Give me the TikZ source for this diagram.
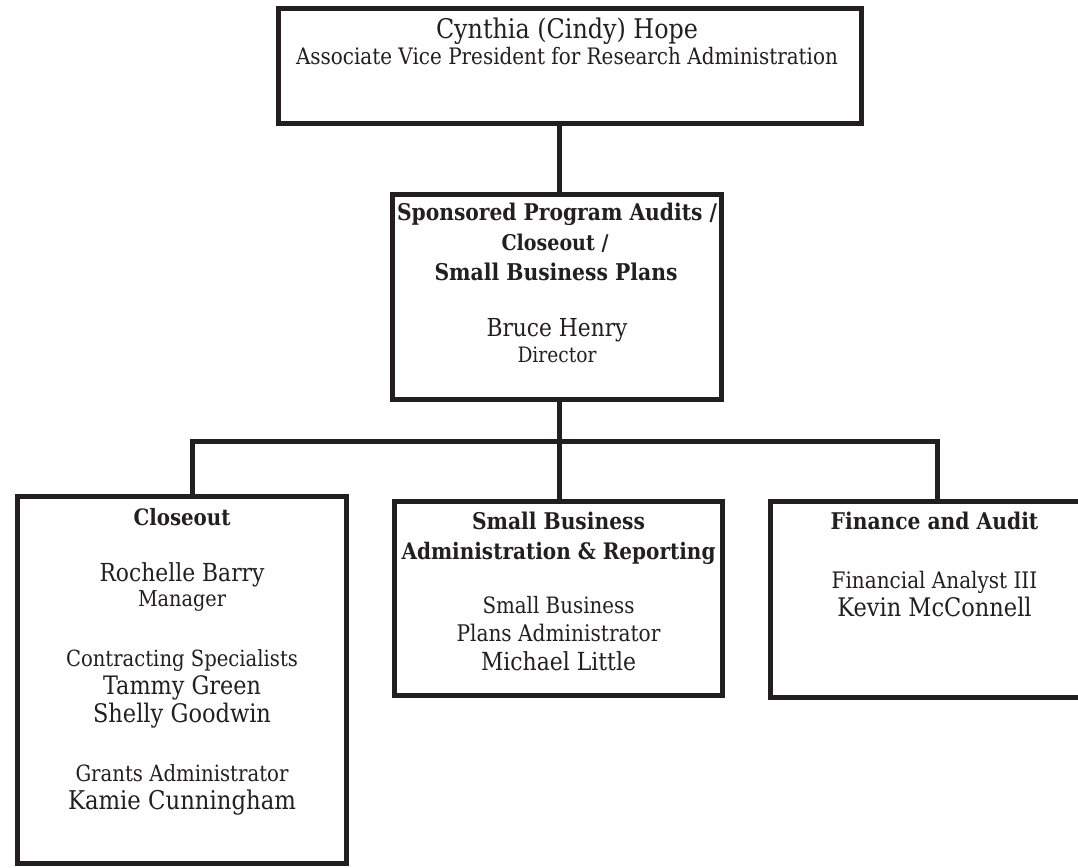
\documentclass[tikz,border=0pt]{standalone}
\usepackage{fontspec}
\setmainfont{DejaVu Serif}[FakeStretch=0.88]
\definecolor{ink}{RGB}{35,31,32}
\newlength\fitlen
\newcommand\fitto[2]{\settowidth\fitlen{\fontsize{10}{12}\selectfont #2}\pgfmathsetmacro\fitsz{10*#1/\fitlen}\fontsize{\fitsz}{\fitsz}\selectfont #2}
\tikzset{
  box/.style={draw=ink, line width=5pt, rectangle, inner sep=0pt},
  lbl/.style={anchor=base, inner sep=0pt, text=ink},
  link/.style={draw=ink, line width=5pt, line join=miter}
}
\begin{document}
\begin{tikzpicture}[x=1pt,y=-1pt]
\clip (0,0) rectangle (1078,867);
\fill[white] (0,0) rectangle (1078,867);
% boxes
\node[box, minimum width=583pt, minimum height=115pt] (top) at (569.5,66) {};
\node[box, minimum width=329pt, minimum height=205pt] (mid) at (557,296.5) {};
\node[box, minimum width=329pt, minimum height=366.5pt] (close) at (182,679.75) {};
\node[box, minimum width=328pt, minimum height=194pt] (sb) at (558.5,598.5) {};
\node[box, minimum width=329pt, minimum height=195.5pt] (fin) at (934.5,599.25) {};
% junctions
\coordinate (trunk) at (559.5,441.5);
\coordinate (lj) at (192.5,441.5);
\coordinate (rj) at (937,441.5);
% connectors
\draw[link] (top.south -| trunk) -- (mid.north -| trunk);
\draw[link] (mid.south -| trunk) -- (trunk);
\draw[link] (close.north -| lj) -- (lj) -- (rj) -- (fin.north -| rj);
\draw[link] (trunk) -- (sb.north -| trunk);
% top box text
\node[lbl] (t1) at (567,38) {\fitto{262}{Cynthia (Cindy) Hope}};
\node[lbl] (t2) at (567,65) {\fitto{542}{Associate Vice President for Research Administration}};
% middle box text
\node[lbl] (m1) at (557,220.7) {\fitto{320}{\bfseries Sponsored Program Audits /}};
\node[lbl] (m2) at (555,250.7) {\fitto{107}{\bfseries Closeout /}};
\node[lbl] (m3) at (556,280) {\fitto{243}{\bfseries Small Business Plans}};
\node[lbl] (m4) at (557,336.7) {\fitto{141}{Bruce Henry}};
\node[lbl] (m5) at (557,362.7) {\fitto{79}{Director}};
% closeout box text
\node[lbl] (c1) at (182,525) {\fitto{97}{\bfseries Closeout}};
\node[lbl] (c2) at (182,581.7) {\fitto{165}{Rochelle Barry}};
\node[lbl] (c3) at (182,606.7) {\fitto{88}{Manager}};
\node[lbl] (c4) at (182,666.7) {\fitto{232}{Contracting Specialists}};
\node[lbl] (c5) at (182,694.3) {\fitto{158}{Tammy Green}};
\node[lbl] (c6) at (182,722.7) {\fitto{178}{Shelly Goodwin}};
\node[lbl] (c7) at (182,781) {\fitto{213}{Grants Administrator}};
\node[lbl] (c8) at (182,809.3) {\fitto{228}{Kamie Cunningham}};
% small business box text
\node[lbl] (s1) at (558.5,529.3) {\fitto{173}{\bfseries Small Business}};
\node[lbl] (s2) at (558.5,559.3) {\fitto{314}{\bfseries Administration \& Reporting}};
\node[lbl] (s3) at (558.5,613.3) {\fitto{152}{Small Business}};
\node[lbl] (s4) at (558.5,641.7) {\fitto{204}{Plans Administrator}};
\node[lbl] (s5) at (558.5,670.7) {\fitto{155}{Michael Little}};
% finance box text
\node[lbl] (f1) at (934.5,529.3) {\fitto{207.6}{\bfseries Finance and Audit}};
\node[lbl] (f2) at (934.5,588.3) {\fitto{205.6}{Financial Analyst III}};
\node[lbl] (f3) at (934.5,616.7) {\fitto{194.4}{Kevin McConnell}};
\end{tikzpicture}
\end{document}
